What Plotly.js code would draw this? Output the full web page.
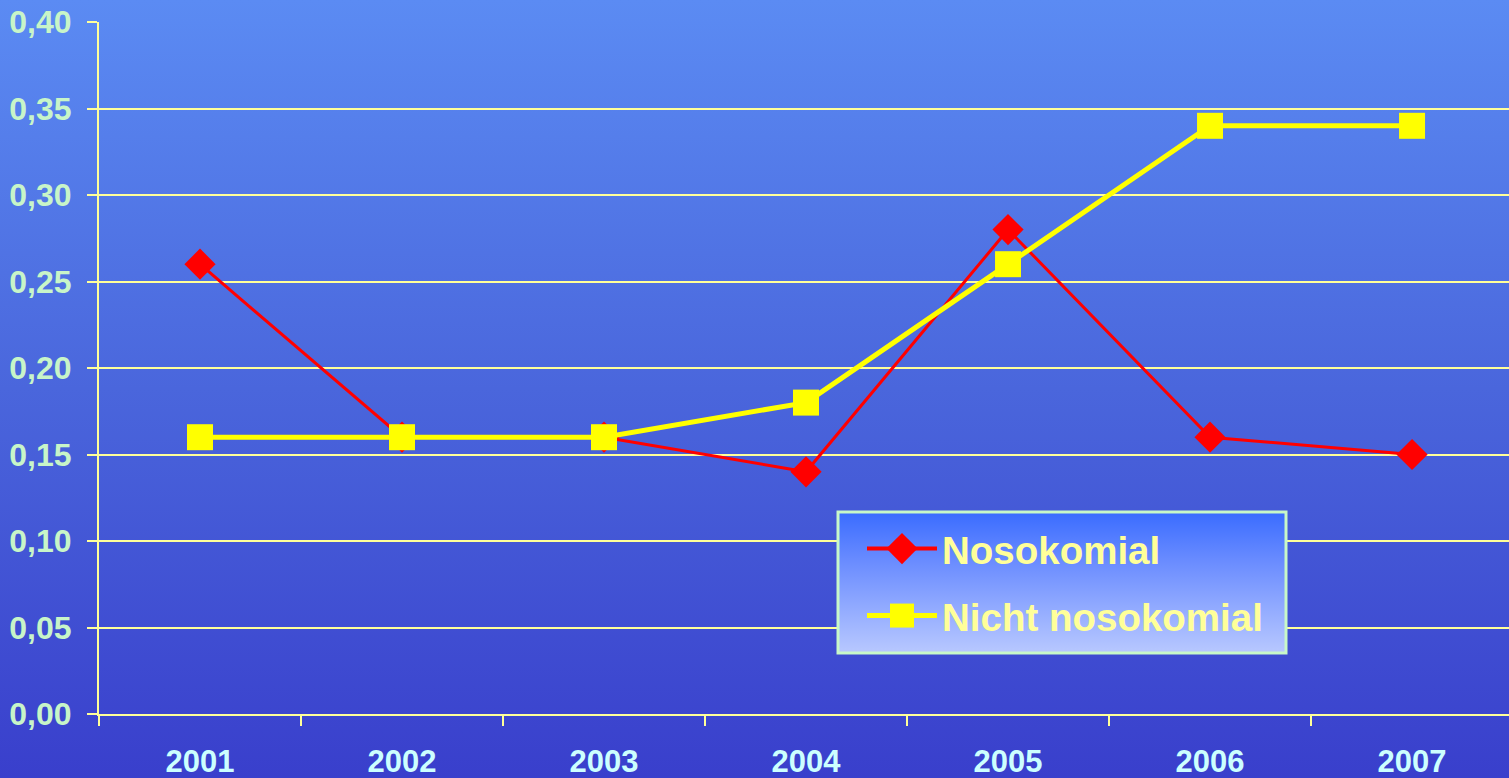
<!DOCTYPE html>
<html>
<head>
<meta charset="utf-8">
<script src="https://cdn.plot.ly/plotly-3.0.1.min.js"></script>
<style>
html,body{margin:0;padding:0;}
#chart{width:1509px;height:778px;background:linear-gradient(to bottom,#5b8bf3 0%,#4a66dc 50%,#393fcc 100%);}
</style>
</head>
<body>
<div id="chart"></div>
<script>
const years = ['2001','2002','2003','2004','2005','2006','2007'];
const nosokomial = [0.26, 0.16, 0.16, 0.14, 0.28, 0.16, 0.15];
const nichtNosokomial = [0.16, 0.16, 0.16, 0.18, 0.26, 0.34, 0.34];
const yTicks = [0, 0.05, 0.10, 0.15, 0.20, 0.25, 0.30, 0.35, 0.40];

const gridCol = '#ffff99';
const legendSvg = "data:image/svg+xml;utf8," + encodeURIComponent(
  "<svg xmlns='http://www.w3.org/2000/svg' width='100' height='100' preserveAspectRatio='none' viewBox='0 0 100 100'>" +
  "<defs><linearGradient id='g' x1='0' y1='0' x2='0' y2='1'>" +
  "<stop offset='0' stop-color='#3a6cff'/><stop offset='0.35' stop-color='#6a8cff'/><stop offset='1' stop-color='#b8c8ff'/>" +
  "</linearGradient></defs><rect width='100' height='100' fill='url(#g)'/></svg>");

const traces = [
  {
    x: years, y: nosokomial, name: 'Nosokomial', type: 'scatter', mode: 'lines+markers',
    legendgroup: 'a',
    line: {color: '#ff0000', width: 3},
    marker: {symbol: 'diamond', size: 24, color: '#ff0000'}
  },
  {
    x: years, y: nichtNosokomial, name: 'Nicht nosokomial', type: 'scatter', mode: 'lines+markers',
    legendgroup: 'b',
    line: {color: '#ffff00', width: 5},
    marker: {symbol: 'square', size: 26, color: '#ffff00'}
  }
];

const L = 99, R = 1509, T = 22, B = 714;
const pw = R - L, ph = B - T;
const bx0 = (838 - L) / pw, bx1 = (1286 - L) / pw;
const by1 = (B - 512) / ph, by0 = (B - 653) / ph;

const layout = {
  width: 1509, height: 778,
  margin: {l: L, r: 1509 - R, t: T, b: 778 - B, pad: 0},
  paper_bgcolor: 'rgba(0,0,0,0)',
  plot_bgcolor: 'rgba(0,0,0,0)',
  separators: ',.',
  font: {family: 'Liberation Sans, Arial, sans-serif'},
  showlegend: true,
  xaxis: {
    type: 'category',
    range: [-0.5, 6.48],
    showgrid: false,
    showline: true, linecolor: gridCol, linewidth: 2,
    ticks: 'outside', tickson: 'boundaries', ticklen: 10, tickcolor: gridCol, tickwidth: 2,
    tickfont: {size: 31, color: '#ccffff', family: 'Liberation Sans, Arial, sans-serif', weight: 'bold'},
    ticklabelstandoff: 19,
    zeroline: false, fixedrange: true
  },
  yaxis: {
    range: [0, 0.40],
    tickvals: yTicks,
    tickformat: '.2f',
    showgrid: true, gridcolor: gridCol, gridwidth: 2,
    showline: true, linecolor: gridCol, linewidth: 2,
    ticks: 'outside', ticklen: 10, tickcolor: gridCol, tickwidth: 2,
    tickfont: {size: 32, color: '#c8f5c8', family: 'Liberation Sans, Arial, sans-serif', weight: 'bold'},
    ticklabelstandoff: 9,
    zeroline: false, fixedrange: true
  },
  legend: {
    x: (862 - L) / pw, y: (B - 517) / ph, xanchor: 'left', yanchor: 'top',
    bgcolor: 'rgba(0,0,0,0)', borderwidth: 0,
    font: {size: 38.5, color: '#ffff99', family: 'Liberation Sans, Arial, sans-serif', weight: 'bold'},
    traceorder: 'grouped', tracegroupgap: 14,
    itemwidth: 70
  },
  images: [{
    source: legendSvg, xref: 'paper', yref: 'paper',
    x: bx0, y: by1, sizex: bx1 - bx0, sizey: by1 - by0,
    xanchor: 'left', yanchor: 'top', sizing: 'stretch', layer: 'above'
  }],
  shapes: [{
    type: 'rect', xref: 'paper', yref: 'paper',
    x0: bx0, x1: bx1, y0: by0, y1: by1,
    line: {color: '#c8f8c8', width: 3}, fillcolor: 'rgba(0,0,0,0)', layer: 'above'
  }]
};

Plotly.newPlot('chart', traces, layout, {displayModeBar: false, staticPlot: true}).then(function (gd) {
  // enlarge legend symbols to match the reference legend glyphs
  gd.querySelectorAll('.legend .legendpoints path.scatterpts').forEach(function (p) {
    const t = p.getAttribute('transform') || '';
    p.setAttribute('transform', t + ' scale(1.5)');
  });
  gd.querySelectorAll('.legend .legendlines path').forEach(function (p) {
    const w = parseFloat(p.style.strokeWidth || '0');
    if (w && w < 4) p.style.strokeWidth = '4px';
  });
});
</script>
</body>
</html>
